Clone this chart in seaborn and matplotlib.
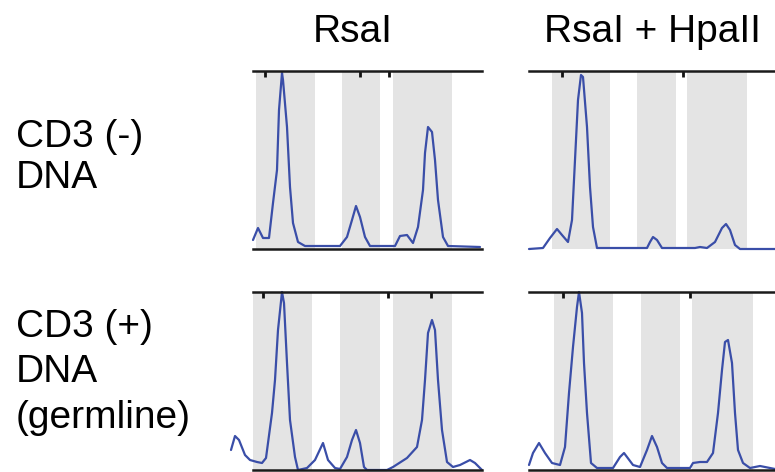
import matplotlib.pyplot as plt
import pandas as pd
import seaborn as sns

# electropherogram traces: scan position / signal
rsa_neg_x = [0, 5, 10, 16, 20, 24, 26, 29, 30, 34, 37, 40, 45, 52, 87, 94, 99, 103, 107, 112,
             117, 142, 147, 154, 160, 165, 170, 172, 175, 179, 182, 185, 190, 195, 227]
rsa_neg_y = [9, 21, 11, 11, 46, 79, 139, 176, 169, 122, 62, 26, 7, 3, 3, 12, 29, 43, 32, 12,
             3, 3, 13, 14, 6, 22, 59, 96, 122, 117, 89, 49, 12, 3, 2]

hpa_neg_x = [0, 14, 21, 28, 33, 39, 43, 46, 49, 52, 54, 58, 61, 64, 68, 118, 121, 124, 128, 133,
             166, 171, 178, 186, 193, 197, 201, 206, 211, 246]
hpa_neg_y = [0, 1, 11, 20, 14, 7, 29, 89, 149, 174, 172, 122, 62, 22, 1, 1, 7, 12, 9, 1,
             1, 2, 1, 7, 21, 25, 19, 4, 0, 0]

rsa_pos_x = [-22, -18, -14, -8, -3, 4, 9, 13, 19, 22, 25, 29, 31, 34, 37, 42, 45, 54, 62, 70,
             75, 82, 87, 94, 99, 103, 107, 111, 114, 134, 140, 154, 164, 169, 172, 175, 179,
             182, 185, 189, 194, 200, 207, 217, 222, 229]
rsa_pos_y = [20, 34, 30, 15, 10, 8, 7, 12, 57, 90, 140, 178, 167, 107, 50, 13, 0, 2, 10, 27,
             10, 2, 1, 13, 30, 40, 27, 3, 0, 0, 3, 12, 23, 50, 90, 137, 150,
             140, 90, 40, 8, 3, 5, 10, 7, 0]

hpa_pos_x = [0, 4, 10, 16, 23, 31, 36, 40, 44, 48, 50, 53, 55, 58, 62, 68, 84, 91, 95, 98,
             104, 111, 118, 123, 128, 133, 138, 161, 164, 171, 178, 184, 189, 193, 196, 199,
             203, 206, 209, 214, 221, 231, 246]
hpa_pos_y = [5, 17, 27, 17, 7, 5, 23, 77, 123, 163, 178, 157, 107, 57, 7, 2, 2, 13, 17, 13,
             5, 3, 20, 34, 23, 7, 2, 2, 7, 8, 8, 17, 57, 100, 128, 130,
             107, 57, 20, 7, 2, 4, 1]

# shaded size windows and marker ticks on the top rule
rsa_neg_bands = [(3, 62), (89, 127), (140, 199)]
hpa_neg_bands = [(23, 81), (108, 147), (158, 218)]
rsa_pos_bands = [(0, 59), (87, 127), (140, 199)]
hpa_pos_bands = [(25, 84), (112, 151), (163, 224)]
rsa_neg_ticks = [12, 107, 136]
hpa_neg_ticks = [33, 154]
rsa_pos_ticks = [10, 135, 178]
hpa_pos_ticks = [34, 161]

col_titles = ["RsaI", "RsaI + HpaII"]
row_titles = [["CD3 (-)", "DNA"], ["CD3 (+)", "DNA", "(germline)"]]

sns.set_theme(style="white")
plt.rcParams["font.family"] = ["Liberation Sans", "DejaVu Sans"]

W, H = 775, 472
fig = plt.figure(figsize=(W / 100, H / 100), dpi=100)

panels = [
    # x, y, bands, ticks, left px, bottom px, width px, bottom rule
    (rsa_neg_x, rsa_neg_y, rsa_neg_bands, rsa_neg_ticks, 253, 249, 229, True),
    (hpa_neg_x, hpa_neg_y, hpa_neg_bands, hpa_neg_ticks, 529, 249, 246, False),
    (rsa_pos_x, rsa_pos_y, rsa_pos_bands, rsa_pos_ticks, 253, 470, 229, True),
    (hpa_pos_x, hpa_pos_y, hpa_pos_bands, hpa_pos_ticks, 529, 470, 246, True),
]

for xs, ys, bands, ticks, left, bottom, width, rule in panels:
    ax = fig.add_axes([left / W, (H - bottom) / H, width / W, 178 / H])
    for lo, hi in bands:
        ax.axvspan(lo, hi, color="#e4e4e4", lw=0, zorder=0)
    df = pd.DataFrame({"scan": xs, "signal": ys})
    sns.lineplot(data=df, x="scan", y="signal", estimator=None, sort=False,
                 color="#3a4ea8", lw=1.6, ax=ax)
    ax.lines[-1].set_clip_on(False)
    ax.set_xlim(0, width)
    ax.set_ylim(0, 178)
    ax.set_xlabel("")
    ax.set_ylabel("")
    ax.set_yticks([])
    ax.set_xticks(ticks)
    ax.tick_params(axis="x", top=True, bottom=False, labeltop=False, labelbottom=False,
                   direction="in", length=4, width=2, color="#111111")
    ax.patch.set_alpha(0)
    for side in ["left", "right"]:
        ax.spines[side].set_visible(False)
    ax.spines["top"].set_color("#1a1a1a")
    ax.spines["top"].set_linewidth(1.8)
    ax.spines["bottom"].set_visible(rule)
    ax.spines["bottom"].set_color("#1a1a1a")
    ax.spines["bottom"].set_linewidth(1.8)

fs = 28
fig.text(353 / W, (H - 42) / H, col_titles[0], ha="center", va="baseline",
         fontsize=fs, color="black")
fig.text(652 / W, (H - 42) / H, col_titles[1], ha="center", va="baseline",
         fontsize=fs, color="black")

row_baselines = [[147, 188], [337, 382, 428]]
for lines, bases in zip(row_titles, row_baselines):
    for txt, b in zip(lines, bases):
        fig.text(16 / W, (H - b) / H, txt, ha="left", va="baseline",
                 fontsize=fs, color="black")

fig.savefig("out.png", dpi=100)
